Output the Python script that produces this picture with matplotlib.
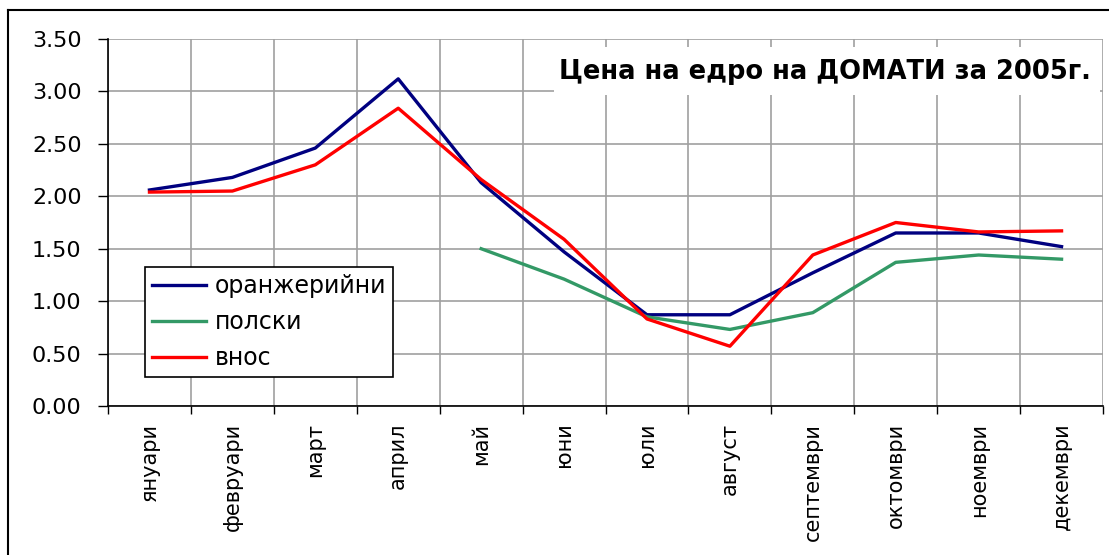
import numpy as np
import matplotlib.pyplot as plt
from matplotlib.lines import Line2D
from matplotlib.patches import Rectangle

plt.rcParams['font.family'] = ['DejaVu Sans']

# месеци и цени (лв/кг)
months = ['януари', 'февруари', 'март', 'април', 'май', 'юни',
          'юли', 'август', 'септември', 'октомври', 'ноември', 'декември']
oranzh = [2.06, 2.18, 2.46, 3.12, 2.13, 1.47, 0.87, 0.87, 1.27, 1.65, 1.65, 1.52]
polski = [np.nan, np.nan, np.nan, np.nan, 1.50, 1.21, 0.85, 0.73, 0.89, 1.37, 1.44, 1.40]
vnos = [2.04, 2.05, 2.30, 2.84, 2.16, 1.59, 0.83, 0.57, 1.44, 1.75, 1.66, 1.67]
series_names = ['оранжерийни', 'полски', 'внос']
colors = ['#000080', '#339966', '#FF0000']
title = 'Цена на едро на ДОМАТИ за 2005г.'

fig = plt.figure(figsize=(11.09, 5.55), dpi=100)
ax = fig.add_axes([0.0974, 0.2685, 0.8972, 0.6612])

x = np.arange(1, len(months) + 1)
for vals, name, c in zip([oranzh, polski, vnos], series_names, colors):
    ax.plot(x, vals, color=c, lw=2.4, label=name, zorder=3)

ax.set_xlim(0.5, len(months) + 0.5)
ax.set_ylim(0, 3.5)
ax.set_yticks(np.arange(0, 3.51, 0.5))
ax.set_yticklabels(['%.2f' % v for v in np.arange(0, 3.51, 0.5)])

ax.set_xticks(np.arange(0.5, len(months) + 1, 1.0))
ax.set_xticklabels([])
ax.set_xticks(x, minor=True)
ax.set_xticklabels(months, minor=True, rotation=90, va='top', ha='center')

ax.tick_params(axis='y', which='major', length=7, width=1, pad=12, labelsize=16, colors='black')
ax.tick_params(axis='x', which='major', length=6, width=1, direction='out')
ax.tick_params(axis='x', which='minor', length=0, pad=12, labelsize=15)

ax.grid(True, which='major', color='#A0A0A0', lw=1.2, zorder=0)
ax.set_axisbelow(True)
for s in ['top', 'right']:
    ax.spines[s].set_visible(False)
for s in ['left', 'bottom']:
    ax.spines[s].set_color('black')
    ax.spines[s].set_linewidth(1.2)

# заглавие в бяла кутия
ax.add_patch(Rectangle((0.448, 0.847), 0.549, 0.131, transform=ax.transAxes,
                       facecolor='white', edgecolor='none', zorder=2))
ax.text(0.7206, 0.910, title, transform=ax.transAxes, ha='center', va='center',
        fontsize=18.5, fontweight='bold', zorder=4)

leg = ax.legend(loc='lower left', bbox_to_anchor=(0.037, 0.079), borderaxespad=0,
                fontsize=17, frameon=True, fancybox=False, edgecolor='black',
                framealpha=1, handlelength=2.3, handletextpad=0.35,
                labelspacing=0.5, borderpad=0.3)
leg.get_frame().set_linewidth(1.2)
leg.set_zorder(5)

# рамка на диаграмата
fig.add_artist(Line2D([0.0072, 0.0072], [0, 0.982], color='black', lw=1.5))
fig.add_artist(Line2D([0.0072, 1], [0.982, 0.982], color='black', lw=1.5))

fig.savefig('out.png', dpi=100)
